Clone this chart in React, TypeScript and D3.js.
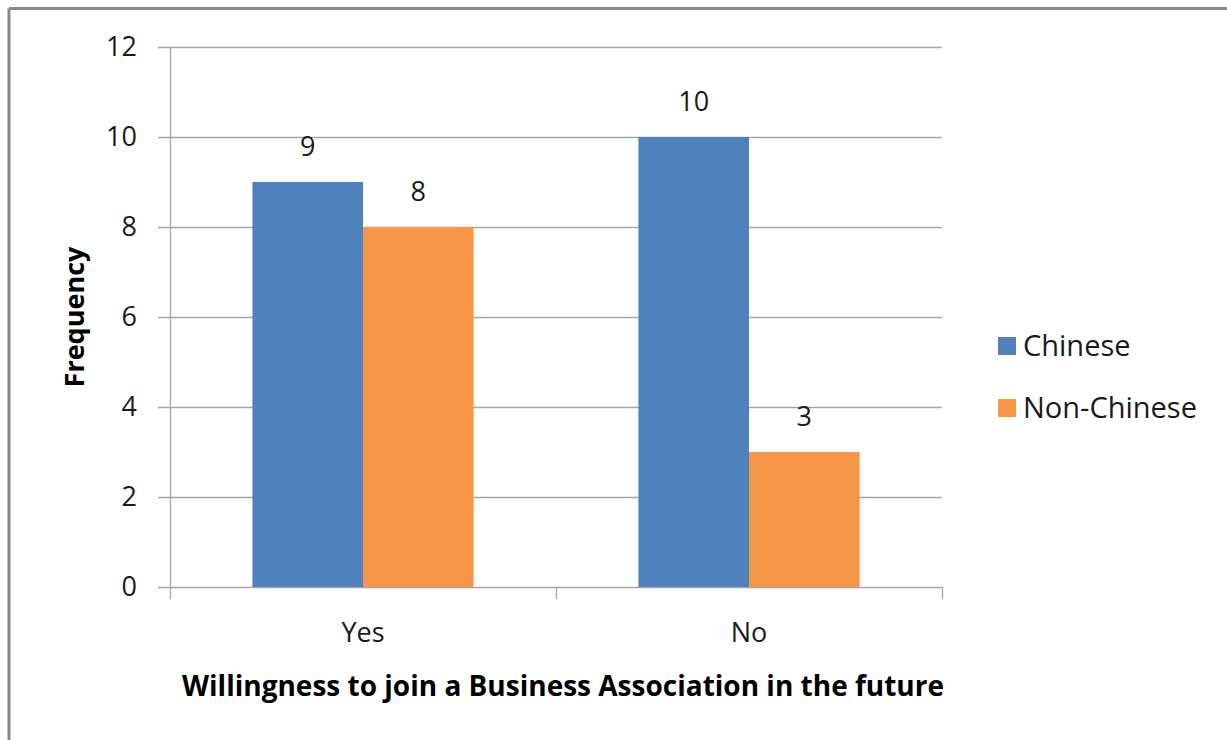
import React from "react";
import * as d3 from "d3";

const categories = ["Yes", "No"];
const seriesNames = ["Chinese", "Non-Chinese"];
const chineseValues = [9, 10];
const nonChineseValues = [8, 3];
const yTicks = [0, 2, 4, 6, 8, 10, 12];
const colors = ["#4F81BD", "#F79646"];
const xTitle = "Willingness to join a Business Association in the future";
const yTitle = "Frequency";

const W = 1227;
const H = 740;
const FONT = "'Open Sans', 'Noto Sans', sans-serif";

export default function App() {
  const left = 170, right = 942, top = 47, bottom = 587;
  const x = d3.scaleBand<string>().domain(categories).range([left, right]).paddingInner(0).paddingOuter(0);
  const inner = d3.scaleBand<string>().domain(seriesNames).range([0, x.bandwidth()]).paddingInner(0).paddingOuter(0.745);
  const y = d3.scaleLinear().domain([0, 12]).range([bottom, top]);
  const series = [chineseValues, nonChineseValues];
  const gridColor = "#A6A6A6";
  const tickBoundaries = [left, ...categories.map((c) => (x(c) as number) + x.bandwidth())];

  return (
    <svg width={W} height={H} style={{ display: "block", position: "absolute", left: 0, top: 0 }} fontFamily={FONT}>
      <rect x={0} y={0} width={W} height={H} fill="#fff" />
      {/* outer border */}
      <line x1={9} y1={8.5} x2={W} y2={8.5} stroke="#888" strokeWidth={3} />
      <line x1={9} y1={8.5} x2={9} y2={H} stroke="#888" strokeWidth={3} />
      {/* gridlines and y ticks */}
      {yTicks.map((t) => (
        <g key={t}>
          <line x1={158} x2={right} y1={Math.round(y(t)) + 0.5} y2={Math.round(y(t)) + 0.5} stroke={gridColor} strokeWidth={1.3} />
          <text x={137} y={y(t)} dy="0.35em" textAnchor="end" fontSize={27} fill="#1a1a1a">{t}</text>
        </g>
      ))}
      {/* y axis */}
      <line x1={left + 0.5} x2={left + 0.5} y1={top} y2={bottom} stroke={gridColor} strokeWidth={1.3} />
      {/* x category ticks */}
      {tickBoundaries.map((b, i) => (
        <line key={i} x1={b + 0.5} x2={b + 0.5} y1={bottom} y2={599} stroke={gridColor} strokeWidth={1.3} />
      ))}
      {/* bars */}
      {categories.map((c, ci) => (
        <g key={c}>
          {seriesNames.map((s, si) => {
            const v = series[si][ci];
            const bx = (x(c) as number) + (inner(s) as number);
            return (
              <g key={s}>
                <rect x={bx} y={y(v)} width={inner.bandwidth()} height={bottom - y(v)} fill={colors[si]} />
                <text x={bx + inner.bandwidth() / 2} y={y(v) - 35} dy="0.35em" textAnchor="middle" fontSize={27} fill="#1a1a1a">{v}</text>
              </g>
            );
          })}
          <text x={(x(c) as number) + x.bandwidth() / 2} y={633} dy="0.35em" textAnchor="middle" fontSize={27} fill="#1a1a1a">{c}</text>
        </g>
      ))}
      {/* axis titles */}
      <text x={563} y={686} dy="0.35em" textAnchor="middle" fontSize={28} fontWeight="bold" fill="#000">{xTitle}</text>
      <text transform={`translate(75,317) rotate(-90)`} dy="0.35em" textAnchor="middle" fontSize={27} fontWeight="bold" fill="#000">{yTitle}</text>
      {/* legend */}
      {seriesNames.map((s, i) => (
        <g key={s} transform={`translate(998, ${346 + i * 62})`}>
          <rect x={0} y={-9} width={18} height={18} fill={colors[i]} />
          <text x={25} y={0} dy="0.35em" fontSize={29} fill="#1a1a1a">{s}</text>
        </g>
      ))}
    </svg>
  );
}
